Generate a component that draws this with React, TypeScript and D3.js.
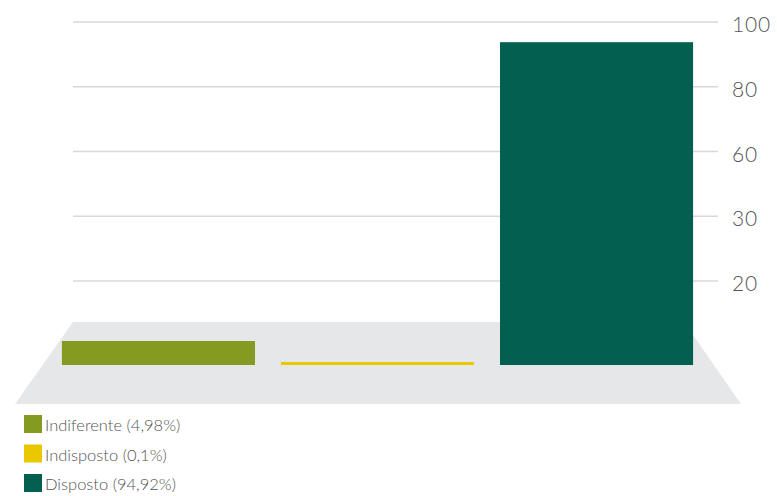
import React from "react";
import * as d3 from "d3";

const categories = ["Indiferente", "Indisposto", "Disposto"];
const values = [4.98, 0.1, 94.92];
const legendLabels = ["Indiferente (4,98%)", "Indisposto (0,1%)", "Disposto (94,92%)"];
const colors = ["#849a21", "#eac800", "#035f50"];
const tickLabels = ["100", "80", "60", "30", "20"];

const W = 777;
const H = 496;

export default function App() {
  const x = d3.scaleBand<string>().domain(categories).range([49, 706]).paddingInner(0.1185).paddingOuter(0.059);
  const base = 365;
  const y = d3.scalePow().exponent(0.882).domain([0, 100]).range([base, 27]);
  const gy = d3.scalePoint<string>().domain(tickLabels).range([22, 281]);
  const floor = [
    [73, 322],
    [684, 322],
    [741, 404],
    [15, 404],
  ];
  const font = "Lato, 'Open Sans', sans-serif";
  return (
    <svg width={W} height={H} style={{ position: "absolute", left: 0, top: 0 }}>
      {tickLabels.map((t) => (
        <g key={t}>
          <line x1={73} x2={718} y1={gy(t)} y2={gy(t)} stroke="#d8d8d8" strokeWidth={1.3} />
          <text x={732} y={(gy(t) as number) + 10} fontFamily={font} fontWeight={300} fontSize={21} fill="#555" letterSpacing={0.8}>
            {t}
          </text>
        </g>
      ))}
      <polygon points={floor.map((p) => p.join(",")).join(" ")} fill="#e6e7e8" />
      {categories.map((c, i) => {
        const top = Math.min(y(values[i]), base - 3);
        return <rect key={c} x={x(c)} y={top} width={x.bandwidth()} height={base - top} fill={colors[i]} />;
      })}
      {legendLabels.map((l, i) => (
        <g key={l} transform={`translate(24, ${415 + i * 29.5})`}>
          <rect width={18} height={18} fill={colors[i]} />
          <text x={21} y={16} fontFamily={font} fontWeight={300} fontSize={16.5} fill="#555">
            {l}
          </text>
        </g>
      ))}
    </svg>
  );
}
